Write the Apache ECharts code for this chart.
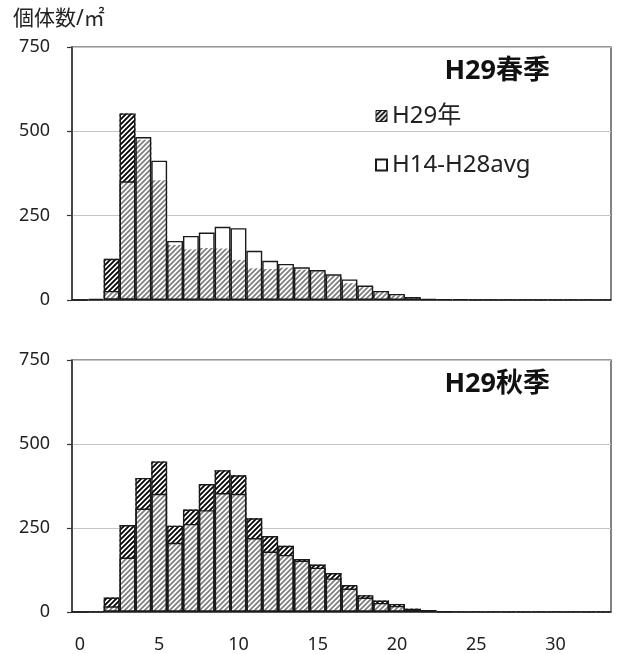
<!DOCTYPE html>
<html><head><meta charset="utf-8">
<script src="https://cdn.jsdelivr.net/npm/echarts@6/dist/echarts.min.js"></script>
<style>html,body{margin:0;padding:0;background:#fff}#c{width:618px;height:654px}</style>
</head><body><div id="c"></div>
<script>
const categories = ['0','1','2','3','4','5','6','7','8','9','10','11','12','13','14','15','16','17','18','19','20','21','22','23','24','25','26','27','28','29','30','31','32','33'];
const springH29 = [0,3,122,553,475,355,163,150,154,153,119,94,92,96,90,85,72,50,38,24,14,6,2,2,1,1,1,1,1,1,1,1,1,1];
const springAvg = [0,3,27,352,483,413,175,190,200,217,213,146,116,107,97,89,76,61,43,27,18,9,3,2,2,1,1,1,1,1,1,1,1,1];
const autumnH29 = [0,1,43,259,399,448,257,305,381,422,407,279,226,197,158,141,116,80,50,34,24,10,6,2,1,1,1,1,1,1,1,1,1,1];
const autumnAvg = [0,1,17,162,308,352,206,262,303,354,352,220,180,170,153,132,100,70,43,27,18,7,3,1,1,1,1,1,1,1,1,1,1,1];
const yTicks = [0,250,500,750];
const seriesNames = ['H29年','H14-H28avg'];
const panelTitles = ['H29春季','H29秋季'];
const yName = '個体数/㎡';

function hatch(){
  const s=5, c=document.createElement('canvas');
  c.width=s; c.height=s;
  const g=c.getContext('2d');
  g.fillStyle='#fff'; g.fillRect(0,0,s,s);
  g.strokeStyle='#000'; g.lineWidth=1.8;
  g.beginPath();
  [-s,0,s].forEach(k=>{ g.moveTo(k-1,s+1); g.lineTo(k+s+1,-1); });
  g.stroke();
  return c;
}
const pat = {image:hatch(), repeat:'repeat'};
const FONT = "'Noto Sans','Noto Sans CJK JP',sans-serif";
const edgeCol = '#1a1a1a';

function xAxis(i){
  return {type:'category', gridIndex:i, data:categories, boundaryGap:true,
    axisLine:{lineStyle:{color:'#333',width:1.5}},
    axisTick:{interval: i===0?4:0, length:6, lineStyle:{color:'#333',width:1.2}},
    axisLabel:{show:i===1, interval:4, fontSize:18, color:'#222', margin:24, fontFamily:FONT},
    splitLine:{show:false}};
}
function yAxis(i){
  return {type:'value', gridIndex:i, min:yTicks[0], max:yTicks[yTicks.length-1], interval:yTicks[1]-yTicks[0],
    axisLine:{show:true, lineStyle:{color:'#333',width:1.5}},
    axisTick:{show:true, length:5, lineStyle:{color:'#333',width:1.2}},
    axisLabel:{fontSize:18, color:'#222', margin:22, fontFamily:FONT},
    splitLine:{lineStyle:{color:'#c4c4c4',width:1.2}}};
}
function panelSeries(i, h29, avg){
  const edges = h29.map((v,k)=> v>avg[k] ? v : '-');
  return [
    {name:seriesNames[0], type:'bar', xAxisIndex:i, yAxisIndex:i, data:h29, barGap:'-100%', barCategoryGap:'0%',
      itemStyle:{color:pat, borderWidth:0}, silent:true, animation:false},
    {name:seriesNames[1], type:'bar', xAxisIndex:i, yAxisIndex:i, data:avg, barGap:'-100%', barCategoryGap:'0%',
      itemStyle:{color:'rgba(255,255,255,0.5)', borderColor:edgeCol, borderWidth:1.4}, animation:false},
    {name:'_edge'+i, type:'bar', xAxisIndex:i, yAxisIndex:i, data:edges, barGap:'-100%', barCategoryGap:'0%',
      itemStyle:{color:'rgba(0,0,0,0)', borderColor:edgeCol, borderWidth:1.4}, animation:false}
  ];
}

const chart = echarts.init(document.getElementById('c'), null, {renderer:'canvas'});
chart.setOption({
  animation:false,
  backgroundColor:'#fff',
  textStyle:{fontFamily:FONT},
  title:[
    {text:yName, left:13, top:9, padding:0, textStyle:{fontSize:21, fontWeight:'normal', color:'#222', fontFamily:FONT}},
    {text:panelTitles[0], right:68, top:58, padding:0, textStyle:{fontSize:27, fontWeight:'bold', color:'#111', fontFamily:FONT}},
    {text:panelTitles[1], right:68, top:371, padding:0, textStyle:{fontSize:27, fontWeight:'bold', color:'#111', fontFamily:FONT}}
  ],
  legend:{
    data:[{name:seriesNames[0], itemStyle:{borderColor:edgeCol,borderWidth:1}}, {name:seriesNames[1]}],
    orient:'vertical', left:375, top:104, itemWidth:11, itemHeight:11, itemGap:25, padding:0,
    icon:'rect', selectedMode:false,
    textStyle:{fontSize:24, color:'#222', fontFamily:FONT}
  },
  grid:[
    {left:72, right:7, top:47, height:253, show:true, borderColor:'#333', borderWidth:1.2, backgroundColor:'transparent'},
    {left:72, right:7, top:360, height:254, show:true, borderColor:'#333', borderWidth:1.2, backgroundColor:'transparent'}
  ],
  xAxis:[xAxis(0), xAxis(1)],
  yAxis:[yAxis(0), yAxis(1)],
  series:[...panelSeries(0, springH29, springAvg), ...panelSeries(1, autumnH29, autumnAvg)]
});
</script></body></html>
